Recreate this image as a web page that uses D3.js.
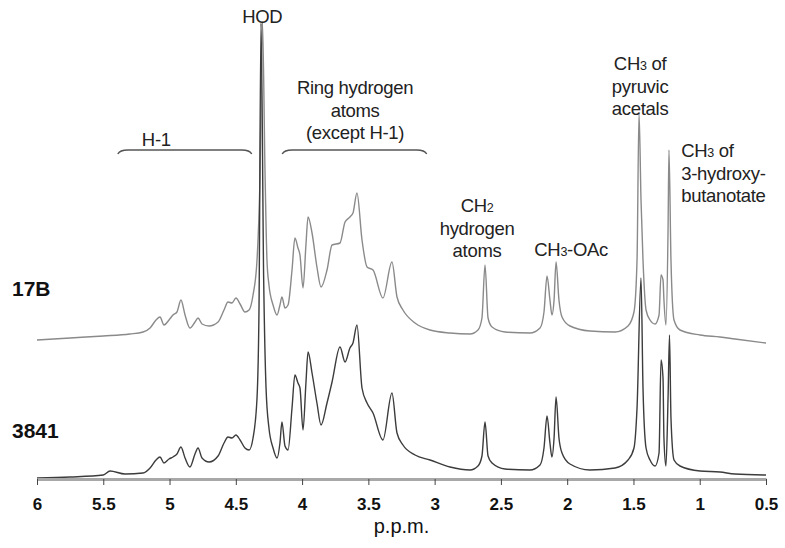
<!DOCTYPE html>
<html>
<head>
<meta charset="utf-8">
<script src="https://cdn.jsdelivr.net/npm/d3@7"></script>
<style>
  body { margin: 0; background: #fff; }
  svg { display: block; }
</style>
</head>
<body>
<div id="chart"></div>
<script>
// chemical shift ticks (p.p.m.)
const ppmTicks = [6, 5.5, 5, 4.5, 4, 3.5, 3, 2.5, 2, 1.5, 1, 0.5];

// spectrum 17B: [ppm, intensity]
const spec17B = [
  [6.00, 0], [5.75, 2], [5.50, 4], [5.30, 6], [5.20, 8], [5.147, 12], [5.102, 20],
  [5.072, 23], [5.042, 15], [5.004, 20], [4.974, 25], [4.944, 28], [4.914, 40],
  [4.883, 25], [4.846, 12], [4.808, 18], [4.785, 22], [4.755, 16], [4.702, 14],
  [4.634, 18], [4.589, 30], [4.559, 38], [4.529, 37], [4.499, 42], [4.468, 36],
  [4.431, 28], [4.400, 30], [4.370, 45], [4.340, 80], [4.318, 160], [4.299, 318],
  [4.280, 170], [4.265, 80], [4.250, 55], [4.219, 35], [4.189, 25], [4.167, 35],
  [4.152, 43], [4.129, 32], [4.106, 35], [4.076, 70], [4.054, 102], [4.031, 92],
  [4.016, 85], [3.993, 52], [3.971, 95], [3.955, 123], [3.925, 107], [3.888, 73],
  [3.857, 53], [3.812, 70], [3.774, 95], [3.714, 97], [3.676, 118], [3.639, 123],
  [3.616, 127], [3.586, 147], [3.548, 100], [3.510, 73], [3.465, 70], [3.390, 42],
  [3.322, 78], [3.284, 43], [3.239, 30], [3.148, 17], [3.035, 10], [2.884, 7],
  [2.733, 6], [2.673, 10], [2.643, 22], [2.620, 75], [2.597, 22], [2.567, 13],
  [2.469, 8], [2.281, 7], [2.205, 12], [2.175, 28], [2.152, 64], [2.130, 40],
  [2.115, 25], [2.099, 40], [2.084, 78], [2.062, 40], [2.039, 23], [1.979, 14],
  [1.828, 9], [1.639, 8], [1.541, 14], [1.496, 28], [1.473, 80], [1.458, 227],
  [1.443, 140], [1.428, 80], [1.405, 30], [1.375, 20], [1.337, 16], [1.307, 25],
  [1.292, 65], [1.277, 60], [1.270, 40], [1.255, 15], [1.239, 110], [1.232, 190],
  [1.217, 80], [1.194, 20], [1.149, 10], [0.998, 5], [0.847, 3], [0.734, 1], [0.50, -3]
];

// spectrum 3841: [ppm, intensity]
const spec3841 = [
  [6.00, 0], [5.75, 1], [5.50, 3], [5.449, 7], [5.336, 4], [5.20, 5], [5.147, 10],
  [5.102, 18], [5.072, 21], [5.042, 15], [5.004, 19], [4.974, 21], [4.944, 24],
  [4.914, 31], [4.883, 20], [4.846, 11], [4.808, 24], [4.785, 30], [4.755, 20],
  [4.702, 16], [4.634, 22], [4.589, 35], [4.559, 41], [4.529, 40], [4.499, 43],
  [4.468, 38], [4.431, 30], [4.400, 28], [4.370, 40], [4.340, 80], [4.325, 170],
  [4.310, 455], [4.290, 200], [4.272, 90], [4.250, 50], [4.219, 30], [4.189, 20],
  [4.167, 35], [4.152, 56], [4.129, 32], [4.106, 28], [4.076, 70], [4.054, 103],
  [4.031, 95], [4.016, 90], [3.993, 48], [3.971, 95], [3.955, 126], [3.925, 105],
  [3.888, 75], [3.857, 53], [3.812, 75], [3.774, 96], [3.714, 131], [3.676, 116],
  [3.639, 130], [3.616, 135], [3.586, 153], [3.548, 90], [3.510, 75], [3.465, 65],
  [3.390, 38], [3.322, 85], [3.284, 45], [3.239, 33], [3.148, 23], [3.035, 18],
  [2.884, 11], [2.733, 8], [2.673, 12], [2.643, 22], [2.620, 56], [2.597, 22],
  [2.567, 15], [2.469, 9], [2.281, 8], [2.205, 13], [2.175, 30], [2.152, 62],
  [2.130, 35], [2.115, 21], [2.099, 40], [2.084, 81], [2.062, 40], [2.039, 25],
  [1.979, 14], [1.828, 8], [1.639, 10], [1.541, 18], [1.496, 30], [1.473, 70],
  [1.443, 200], [1.428, 90], [1.405, 30], [1.375, 18], [1.337, 12], [1.307, 25],
  [1.292, 118], [1.277, 100], [1.270, 40], [1.255, 12], [1.239, 80], [1.228, 143],
  [1.217, 60], [1.194, 18], [1.149, 12], [0.998, 7], [0.847, 6], [0.734, 4], [0.50, 3]
];

const sampleNames = ['17B', '3841'];

const width = 785, height = 548;
const margin = {top: 18, right: 19, bottom: 70, left: 37};

const svg = d3.select('#chart').append('svg')
  .attr('width', width)
  .attr('height', height)
  .attr('viewBox', `0 0 ${width} ${height}`)
  .style('font-family', '"Liberation Sans", Arial, sans-serif');

const x = d3.scaleLinear()
  .domain([6, 0.5])
  .range([margin.left, width - margin.right]);

const y = d3.scaleLinear()
  .domain([0, 460])
  .range([height - margin.bottom, margin.top]);

// vertical offset of each trace, in intensity units
const offsets = [138, 0];
const colors = ['#8a8a8a', '#3c3c3c'];

const line = off => d3.line()
  .x(d => x(d[0]))
  .y(d => y(d[1] + off))
  .curve(d3.curveMonotoneX);

[spec17B, spec3841].forEach((s, i) => {
  svg.append('path')
    .datum(s)
    .attr('fill', 'none')
    .attr('stroke', colors[i])
    .attr('stroke-width', 1.4)
    .attr('stroke-linejoin', 'round')
    .attr('d', line(offsets[i]));
});

// x axis
const xAxis = g => g
  .attr('transform', `translate(0,${height - margin.bottom + 1})`)
  .call(d3.axisBottom(x).tickValues(ppmTicks).tickFormat(d => d).tickSize(6).tickPadding(13).tickSizeOuter(0))
  .call(g => g.select('.domain').attr('stroke', '#a8a8a8').attr('stroke-width', 3))
  .call(g => g.selectAll('.tick line').attr('stroke', '#444'))
  .call(g => g.selectAll('.tick text')
      .attr('fill', '#111')
      .attr('font-size', 17)
      .attr('font-weight', 'bold')
      .attr('font-family', '"Liberation Sans", Arial, sans-serif'));

svg.append('g').call(xAxis);

svg.append('text')
  .attr('x', (x(6) + x(0.5)) / 2)
  .attr('y', 533)
  .attr('text-anchor', 'middle')
  .attr('font-size', 20)
  .attr('fill', '#111')
  .text('p.p.m.');

// sample names
const nameY = [296, 438];
svg.selectAll('.name')
  .data(sampleNames)
  .join('text')
    .attr('x', 12)
    .attr('y', (d, i) => nameY[i])
    .attr('font-size', 21)
    .attr('font-weight', 'bold')
    .attr('fill', '#111')
    .text(d => d);

// annotation labels: lines of [text, subscript, rest]
const notes = [
  {ppm: 4.30, y: 23, anchor: 'middle', lines: [['HOD']]},
  {ppm: 5.10, y: 146, anchor: 'middle', lines: [['H-1']]},
  {ppm: 3.60, y: 94, anchor: 'middle', lines: [['Ring hydrogen'], ['atoms'], ['(except H-1)']]},
  {ppm: 2.68, y: 212, anchor: 'middle', lines: [['CH', '2'], ['hydrogen'], ['atoms']]},
  {ppm: 1.97, y: 256, anchor: 'middle', lines: [['CH', '3', '-OAc']]},
  {ppm: 1.45, y: 70, anchor: 'middle', lines: [['CH', '3', ' of'], ['pyruvic'], ['acetals']]},
  {ppm: 1.14, y: 157, anchor: 'start', lines: [['CH', '3', ' of'], ['3-hydroxy-'], ['butanotate']]}
];

notes.forEach(n => {
  n.lines.forEach((l, j) => {
    const t = svg.append('text')
      .attr('x', x(n.ppm))
      .attr('y', n.y + j * 22.5)
      .attr('text-anchor', n.anchor)
      .attr('font-size', 18.5)
      .attr('letter-spacing', -0.3)
      .attr('fill', '#222');
    t.append('tspan').text(l[0]);
    if (l[1]) t.append('tspan').attr('font-size', 12.5).text(l[1]);
    if (l[2]) t.append('tspan').text(l[2]);
  });
});

// region brackets
const brackets = [[5.39, 4.38], [4.15, 3.06]];
const by = 150;
svg.selectAll('.bracket')
  .data(brackets)
  .join('path')
    .attr('fill', 'none')
    .attr('stroke', '#555')
    .attr('stroke-width', 1.5)
    .attr('d', d => {
      const x0 = x(d[0]), x1 = x(d[1]);
      return `M${x0},${by + 4} Q${x0 + 2},${by} ${x0 + 10},${by} L${x1 - 10},${by} Q${x1 - 2},${by} ${x1},${by + 4}`;
    });
</script>
</body>
</html>
